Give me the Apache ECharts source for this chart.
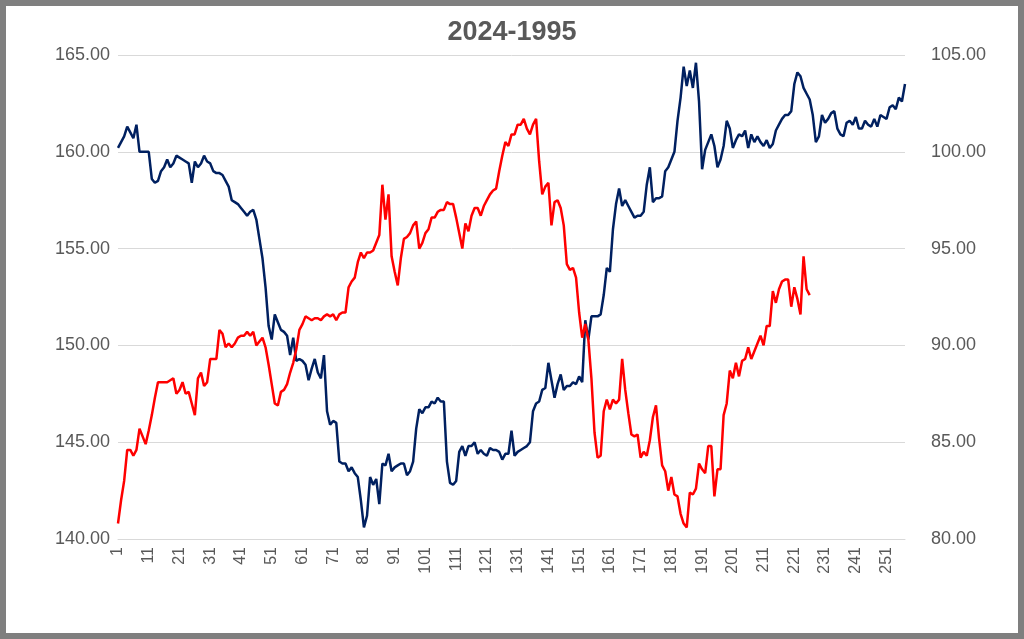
<!DOCTYPE html><html><head><meta charset="utf-8">
<script src="https://cdn.jsdelivr.net/npm/echarts@6/dist/echarts.min.js"></script>
<style>html,body{margin:0;padding:0;background:#fff}#c{width:1012px;height:627px;border:6px solid #7f7f7f}</style>
</head><body><div id="c"></div><script>
const navy=[160.2,160.5,160.8,161.3,161.0,160.7,161.4,160.0,160.0,160.0,160.0,158.6,158.4,158.5,159.0,159.2,159.6,159.2,159.4,159.8,159.7,159.6,159.5,159.4,158.4,159.5,159.2,159.4,159.8,159.5,159.4,159.0,158.9,158.9,158.8,158.5,158.2,157.5,157.4,157.3,157.1,156.9,156.7,156.9,157.0,156.5,155.5,154.5,153.0,151.0,150.3,151.6,151.2,150.8,150.7,150.5,149.5,150.4,149.2,149.3,149.2,149.0,148.2,148.8,149.3,148.6,148.3,149.5,146.6,145.9,146.1,146.0,144.0,143.9,143.9,143.5,143.7,143.4,143.2,142.0,140.6,141.2,143.2,142.8,143.1,141.8,143.9,143.8,144.4,143.5,143.7,143.8,143.9,143.9,143.3,143.5,144.0,145.7,146.7,146.5,146.8,146.8,147.1,147.0,147.3,147.1,147.1,144.0,142.9,142.8,143.0,144.5,144.8,144.3,144.8,144.8,145.0,144.4,144.6,144.4,144.3,144.7,144.6,144.6,144.5,144.1,144.4,144.4,145.6,144.3,144.5,144.6,144.7,144.8,145.0,146.6,147.0,147.1,147.7,147.8,149.1,148.2,147.3,148.0,148.5,147.7,147.9,147.9,148.1,148.0,148.4,148.1,151.3,150.3,151.5,151.5,151.5,151.6,152.6,154.0,153.8,156.0,157.3,158.1,157.2,157.5,157.2,156.9,156.6,156.7,156.7,156.9,158.3,159.2,157.4,157.6,157.6,157.7,159.0,159.2,159.6,160.0,161.6,162.8,164.4,163.4,164.2,163.3,164.6,162.6,159.1,160.1,160.5,160.9,160.3,159.2,159.6,160.3,161.6,161.2,160.2,160.6,160.9,160.8,161.1,160.2,160.9,160.5,160.8,160.5,160.3,160.6,160.2,160.4,161.1,161.4,161.7,161.9,161.9,162.1,163.5,164.1,163.9,163.3,163.0,162.7,161.9,160.5,160.8,161.9,161.5,161.7,162.0,162.1,161.2,160.9,160.8,161.5,161.6,161.4,161.8,161.2,161.2,161.6,161.4,161.3,161.7,161.3,161.9,161.8,161.7,162.3,162.4,162.2,162.8,162.6,163.5];
const red=[80.8,82.0,83.0,84.6,84.6,84.3,84.6,85.7,85.3,84.9,85.6,86.4,87.3,88.1,88.1,88.1,88.1,88.2,88.3,87.5,87.7,88.1,87.5,87.6,87.0,86.4,88.3,88.6,87.9,88.1,89.3,89.3,89.3,90.8,90.6,89.9,90.1,89.9,90.1,90.4,90.5,90.5,90.7,90.5,90.7,90.0,90.2,90.4,89.9,89.0,88.0,87.0,86.9,87.6,87.7,88.0,88.6,89.1,89.8,90.8,91.1,91.5,91.4,91.3,91.4,91.4,91.3,91.5,91.6,91.5,91.6,91.3,91.6,91.7,91.7,93.0,93.3,93.5,94.3,94.8,94.5,94.8,94.8,94.9,95.3,95.7,98.3,96.5,97.8,94.6,93.8,93.1,94.5,95.5,95.6,95.8,96.2,96.4,95.0,95.3,95.8,96.0,96.6,96.6,96.9,97.0,97.0,97.4,97.3,97.3,96.6,95.8,95.0,96.3,95.9,96.7,97.1,97.1,96.7,97.2,97.5,97.8,98.0,98.1,99.0,99.8,100.5,100.3,100.9,100.9,101.4,101.4,101.7,101.2,100.9,101.4,101.7,99.5,97.8,98.2,98.4,96.2,97.4,97.5,97.1,96.2,94.2,93.9,94.0,93.5,91.7,90.4,91.1,90.3,88.3,85.5,84.2,84.3,86.6,87.2,86.7,87.2,87.0,87.2,89.3,87.7,86.5,85.4,85.3,85.4,84.2,84.5,84.3,85.1,86.3,86.9,85.2,83.8,83.5,82.5,83.2,82.3,82.2,81.3,80.8,80.6,82.4,82.3,82.6,83.9,83.6,83.4,84.8,84.8,82.2,83.6,83.6,86.4,87.0,88.7,88.3,89.1,88.4,89.2,89.3,89.9,89.3,89.7,90.1,90.5,90.0,91.0,91.0,92.8,92.2,92.9,93.3,93.4,93.4,92.0,93.0,92.4,91.6,94.6,92.9,92.6];
const title='2024-1995';
const cats=navy.map((_,i)=>String(i+1));
const chart=echarts.init(document.getElementById('c'));
const lab={color:'#595959',fontSize:18,fontFamily:'Liberation Sans',formatter:v=>v.toFixed(2)};
chart.setOption({
 animation:false,
 title:{text:title,left:'center',top:8,textStyle:{fontSize:27,fontWeight:'bold',color:'#595959',fontFamily:'Liberation Sans'}},
 grid:{left:112,right:113,top:49,bottom:94},
 xAxis:{type:'category',data:cats,boundaryGap:false,axisTick:{show:false},axisLine:{lineStyle:{color:'#d9d9d9'}},
  axisLabel:{interval:9,rotate:90,color:'#595959',fontSize:16,fontFamily:'Liberation Sans'}},
 yAxis:[{type:'value',min:140,max:165,interval:5,axisLabel:lab,splitLine:{lineStyle:{color:'#d9d9d9'}},axisLine:{show:false}},
  {type:'value',min:80,max:105,interval:5,axisLabel:Object.assign({},lab,{margin:26}),splitLine:{show:false},axisLine:{show:false}}],
 series:[{type:'line',data:navy,yAxisIndex:0,showSymbol:false,lineStyle:{color:'#002060',width:2.5},itemStyle:{color:'#002060'}},
  {type:'line',data:red,yAxisIndex:1,showSymbol:false,lineStyle:{color:'#ff0000',width:2.5},itemStyle:{color:'#ff0000'}}]
});
</script></body></html>
